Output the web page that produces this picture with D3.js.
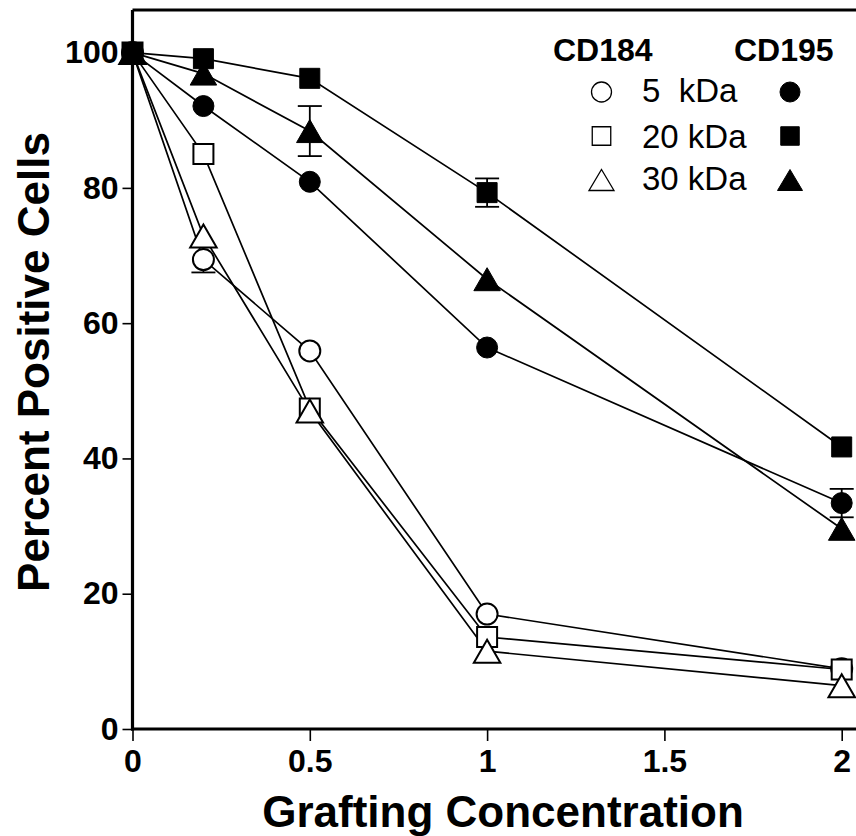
<!DOCTYPE html>
<html>
<head>
<meta charset="utf-8">
<script src="https://cdn.jsdelivr.net/npm/d3@7"></script>
<style>
  html, body { margin: 0; padding: 0; background: #fff; }
  svg { display: block; font-family: "Liberation Sans", Arial, Helvetica, sans-serif; }
</style>
</head>
<body>
<svg id="chart" width="856" height="836"></svg>
<script>
// ---- Data ----
const xValues = [0, 0.2, 0.5, 1, 2];
const xTicks = [0, 0.5, 1, 1.5, 2];
const xTickLabels = ["0", "0.5", "1", "1.5", "2"];
const yTicks = [0, 20, 40, 60, 80, 100];

// CD184 (open symbols)
const cd184_5kDa  = [100, 69.4, 55.9, 17.0, 8.9];
const cd184_20kDa = [100, 85.0, 47.4, 13.6, 8.8];
const cd184_30kDa = [100, 72.9, 47.0, 11.5, 6.4];
// CD195 (filled symbols)
const cd195_5kDa  = [100, 92.1, 80.9, 56.4, 33.4];
const cd195_20kDa = [100, 99.1, 96.2, 79.3, 41.7];
const cd195_30kDa = [100, 96.9, 88.4, 66.5, 29.6];

// error bar half-widths per point
const errCd184_5kDa  = [0, 1.9, 0, 0, 0];
const errCd195_5kDa  = [0, 0, 0, 0, 2.1];
const errCd195_20kDa = [0, 0, 0, 2.1, 0];
const errCd195_30kDa = [0, 0, 3.7, 0, 0];

const legendLabels = ["5 kDa", "20 kDa", "30 kDa"];
const legendHeaders = ["CD184", "CD195"];

const series = [
  { name: "CD184 5 kDa",  values: cd184_5kDa,  err: errCd184_5kDa,  shape: "circle",   filled: false },
  { name: "CD184 20 kDa", values: cd184_20kDa, err: null,           shape: "square",   filled: false },
  { name: "CD184 30 kDa", values: cd184_30kDa, err: null,           shape: "triangle", filled: false },
  { name: "CD195 5 kDa",  values: cd195_5kDa,  err: errCd195_5kDa,  shape: "circle",   filled: true },
  { name: "CD195 20 kDa", values: cd195_20kDa, err: errCd195_20kDa, shape: "square",   filled: true },
  { name: "CD195 30 kDa", values: cd195_30kDa, err: errCd195_30kDa, shape: "triangle", filled: true }
];

// ---- Layout ----
const svg = d3.select("#chart");
const x = d3.scaleLinear().domain([0, 2]).range([132.5, 841.7]);
const y = d3.scaleLinear().domain([0, 106.3]).range([729, 10]);

function shapePath(shape, s) {
  if (shape === "circle") {
    const r = s.r;
    return `M${-r},0A${r},${r} 0 1,0 ${r},0A${r},${r} 0 1,0 ${-r},0Z`;
  }
  if (shape === "square") {
    const h = s.sq / 2;
    return `M${-h},${-h}H${h}V${h}H${-h}Z`;
  }
  const w = s.tw / 2, hh = s.th / 2;
  return `M0,${-hh}L${w},${hh}L${-w},${hh}Z`;
}
const plotSize = { r: 10.5, sq: 20, tw: 26.5, th: 23 };
const legSize = { r: 10, sq: 18.5, tw: 25, th: 21 };

// frame top line
svg.append("line")
  .attr("x1", 132.5).attr("x2", 856).attr("y1", 10).attr("y2", 10)
  .attr("stroke", "#000").attr("stroke-width", 3);

// axes
const fontAxis = "32px";
const yAxis = d3.axisLeft(y).tickValues(yTicks).tickSize(10).tickPadding(4).tickFormat(d3.format("d"));
const gy = svg.append("g").attr("transform", `translate(${x(0)},0)`).call(yAxis);
gy.select(".domain").remove();
gy.selectAll(".tick line").attr("stroke-width", 1.6);
gy.selectAll(".tick text").attr("font-size", fontAxis).attr("font-weight", "bold")
  .attr("font-family", "Liberation Sans, Arial, sans-serif").attr("fill", "#000");

const xAxis = d3.axisBottom(x).tickValues(xTicks).tickSize(12).tickPadding(8)
  .tickFormat((d, i) => xTickLabels[i]);
const gx = svg.append("g").attr("transform", `translate(0,${y(0)})`).call(xAxis);
gx.select(".domain").remove();
gx.selectAll(".tick line").attr("stroke-width", 1.6);
gx.selectAll(".tick text").attr("font-size", fontAxis).attr("font-weight", "bold")
  .attr("font-family", "Liberation Sans, Arial, sans-serif").attr("fill", "#000");

// axis lines
svg.append("line").attr("x1", x(0)).attr("x2", x(0)).attr("y1", 10).attr("y2", y(0) + 1.5)
  .attr("stroke", "#000").attr("stroke-width", 3.2);
svg.append("line").attr("x1", x(0) - 1.5).attr("x2", 856).attr("y1", y(0)).attr("y2", y(0))
  .attr("stroke", "#000").attr("stroke-width", 3.2);

// axis titles
svg.append("text")
  .attr("x", 503).attr("y", 827)
  .attr("text-anchor", "middle")
  .attr("font-size", "44px").attr("font-weight", "bold")
  .text("Grafting Concentration");
svg.append("text")
  .attr("transform", `translate(49,362) rotate(-90)`)
  .attr("text-anchor", "middle")
  .attr("font-size", "44px").attr("font-weight", "bold")
  .text("Percent Positive Cells");

// lines
const line = d3.line().x((d, i) => x(xValues[i])).y(d => y(d));
series.forEach(s => {
  svg.append("path").attr("d", line(s.values))
    .attr("fill", "none").attr("stroke", "#000").attr("stroke-width", 1.7);
});

// error bars
series.forEach(s => {
  if (!s.err) return;
  s.values.forEach((v, i) => {
    const e = s.err[i];
    if (!e) return;
    const cx = x(xValues[i]);
    const g = svg.append("g").attr("stroke", "#000").attr("stroke-width", 1.8);
    g.append("line").attr("x1", cx).attr("x2", cx).attr("y1", y(v + e)).attr("y2", y(v - e));
    g.append("line").attr("x1", cx - 12).attr("x2", cx + 12).attr("y1", y(v + e)).attr("y2", y(v + e));
    g.append("line").attr("x1", cx - 12).attr("x2", cx + 12).attr("y1", y(v - e)).attr("y2", y(v - e));
  });
});

// markers
series.forEach(s => {
  s.values.forEach((v, i) => {
    svg.append("path")
      .attr("d", shapePath(s.shape, plotSize))
      .attr("transform", `translate(${x(xValues[i])},${y(v)})`)
      .attr("fill", s.filled ? "#000" : "#fff")
      .attr("stroke", "#000").attr("stroke-width", s.filled ? 1 : 2);
  });
});

// legend
svg.append("text").attr("x", 553).attr("y", 61).attr("font-size", "32px").attr("font-weight", "bold").text(legendHeaders[0]);
svg.append("text").attr("x", 734).attr("y", 61).attr("font-size", "32px").attr("font-weight", "bold").text(legendHeaders[1]);
const legRows = [92, 136, 180];
const legBase = [102, 148, 190];
const legShapes = ["circle", "square", "triangle"];
legendLabels.forEach((lab, i) => {
  svg.append("path").attr("d", shapePath(legShapes[i], legSize))
    .attr("transform", `translate(601.5,${legRows[i]})`)
    .attr("fill", "#fff").attr("stroke", "#000").attr("stroke-width", 1.3);
  svg.append("path").attr("d", shapePath(legShapes[i], legSize))
    .attr("transform", `translate(790,${legRows[i]})`)
    .attr("fill", "#000").attr("stroke", "#000").attr("stroke-width", 1);
  svg.append("text").attr("x", 642).attr("y", legBase[i])
    .attr("font-size", "33px").style("white-space", "pre")
    .text(i === 0 ? "5  kDa" : lab);
});
</script>
</body>
</html>
